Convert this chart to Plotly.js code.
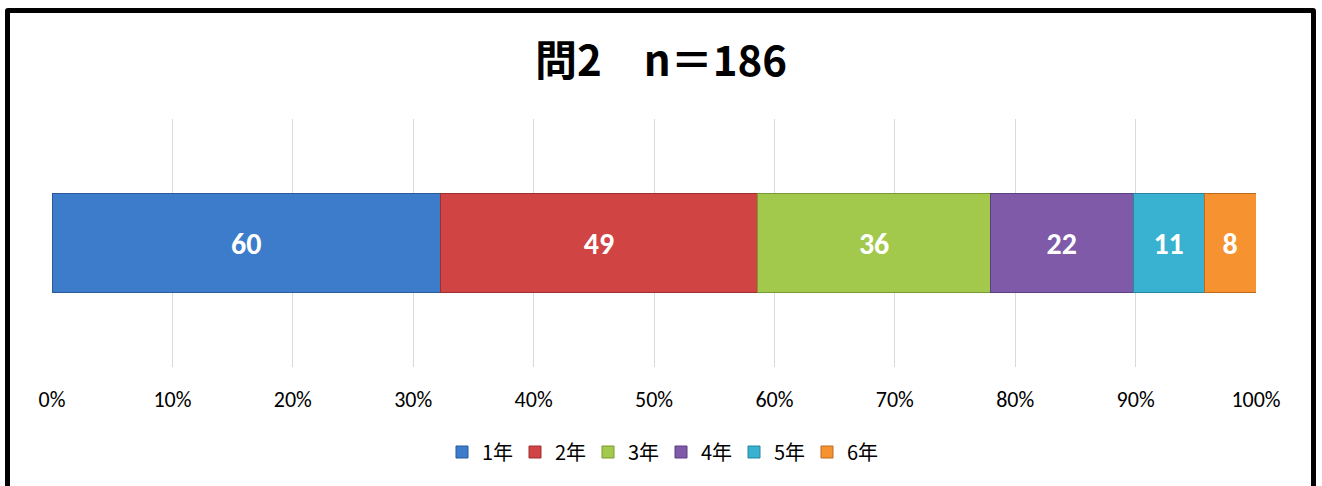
<!DOCTYPE html>
<html>
<head>
<meta charset="utf-8">
<script src="https://cdn.plot.ly/plotly-3.0.1.min.js"></script>
<style>
html,body{margin:0;padding:0;background:#fff;overflow:hidden;}
#wrap{position:relative;width:1322px;height:486px;}
#chart{position:absolute;left:0;top:0;width:1322px;height:486px;}
#frame{position:absolute;left:5px;top:8px;width:1301px;height:500px;border:5px solid #000;border-radius:3px;pointer-events:none;}
</style>
</head>
<body>
<div id="wrap"><div id="chart"></div><div id="frame"></div></div>
<script>
const titleText = "問2　n＝186";
const category = ["問2"];
const seriesNames = ["1年", "2年", "3年", "4年", "5年", "6年"];
const seriesValues = [60, 49, 36, 22, 11, 8];
const seriesColors = ["#3D7CCB", "#D04444", "#A3C94C", "#7E5AA8", "#38B2D0", "#F6922F"];
const seriesLines = ["#2A5A99", "#9E2F2F", "#7A9A35", "#5B3F80", "#26869E", "#BF6B1C"];
const tickVals = [0, 0.1, 0.2, 0.3, 0.4, 0.5, 0.6, 0.7, 0.8, 0.9, 1];

const traces = seriesNames.map((name, i) => ({
  type: "bar",
  orientation: "h",
  name: name,
  y: category,
  x: [seriesValues[i]],
  text: [String(seriesValues[i])],
  texttemplate: "%{text}",
  textposition: "inside",
  insidetextanchor: "middle",
  textangle: 0,
  insidetextfont: {family: "Carlito, Lato, 'Open Sans', sans-serif", size: 30, color: "#ffffff", weight: "bold"},
  marker: {color: seriesColors[i], line: {color: seriesLines[i], width: 1}},
  hoverinfo: "name+x"
}));

const layout = {
  width: 1322,
  height: 486,
  paper_bgcolor: "#ffffff",
  plot_bgcolor: "#ffffff",
  margin: {l: 52, r: 66, t: 119, b: 119},
  barmode: "stack",
  barnorm: "fraction",
  bargap: 0.6,
  showlegend: true,
  title: {
    text: "<b>" + titleText + "</b>",
    x: 0.5, xanchor: "center",
    y: 1 - 61/486, yanchor: "middle",
    font: {family: "'Noto Sans CJK JP', sans-serif", size: 42, color: "#000"}
  },
  xaxis: {
    range: [0, 1],
    tickvals: tickVals,
    tickformat: ".0%",
    showgrid: true,
    gridcolor: "#D9D9D9",
    gridwidth: 1,
    zeroline: false,
    showline: false,
    ticks: "outside",
    ticklen: 13,
    tickcolor: "rgba(0,0,0,0)",
    tickfont: {family: "Carlito, Lato, 'Open Sans', sans-serif", size: 22, color: "#000"},
    fixedrange: true
  },
  yaxis: {
    showticklabels: false,
    showgrid: false,
    zeroline: false,
    showline: false,
    fixedrange: true
  },
  legend: {
    orientation: "h",
    x: 0.5, xanchor: "center", xref: "container",
    y: 1 - 452/486, yanchor: "middle", yref: "container",
    traceorder: "normal",
    font: {family: "'Noto Sans CJK JP', sans-serif", size: 20, color: "#000"},
    itemwidth: 30,
    entrywidth: 28,
    entrywidthmode: "pixels"
  }
};

Plotly.newPlot("chart", traces, layout, {displayModeBar: false, staticPlot: true});
</script>
</body>
</html>
